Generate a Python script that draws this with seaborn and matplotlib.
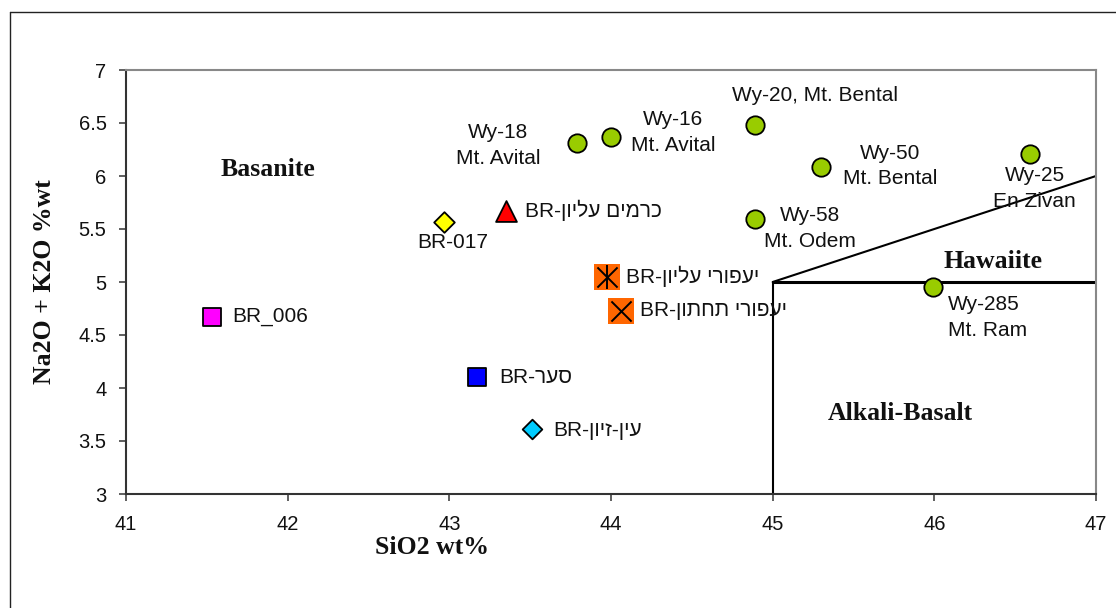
import re
import matplotlib
matplotlib.use("Agg")
import matplotlib.pyplot as plt
from matplotlib.lines import Line2D
import pandas as pd
import seaborn as sns

# --- data -------------------------------------------------------------
samples = ["BR_006", "BR-017", "BR-כרמים עליון", "BR-סער", "BR-עין-זיון",
           "BR-יעפורי עליון", "BR-יעפורי תחתון",
           "Wy-18\nMt. Avital", "Wy-16\nMt. Avital", "Wy-20, Mt. Bental",
           "Wy-50\nMt. Bental", "Wy-58\nMt. Odem", "Wy-25\nEn Zivan",
           "Wy-285\nMt. Ram"]
sio2 = [41.53, 42.97, 43.35, 43.17, 43.51, 43.975, 44.06,
        43.79, 44.00, 44.89, 45.30, 44.89, 46.59, 45.99]
alkali = [4.67, 5.57, 5.67, 4.10, 3.61, 5.05, 4.73,
          6.31, 6.37, 6.48, 6.085, 5.59, 6.21, 4.95]

# field boundaries (SiO2, Na2O+K2O)
vertical_x = [45, 45]
vertical_y = [3, 5]
horizontal_x = [45, 47]
horizontal_y = [5, 5]
diagonal_x = [45, 47]
diagonal_y = [5, 6]

field_names = ["Basanite", "Hawaiite", "Alkali-Basalt"]
field_x = [41.88, 46.36, 45.79]
field_y = [6.06, 5.19, 3.755]

x_ticks = [41, 42, 43, 44, 45, 46, 47]
y_ticks = [3, 3.5, 4, 4.5, 5, 5.5, 6, 6.5, 7]

# --- marker styles ----------------------------------------------------
GREEN = "#99CC00"
styles = {
    "BR_006": dict(marker="s", color="#FF00FF", s=150),
    "BR-017": dict(marker="D", color="#FFFF00", s=110),
    "BR-כרמים עליון": dict(marker="^", color="#FF0000", s=225),
    "BR-סער": dict(marker="s", color="#0000FF", s=150),
    "BR-עין-זיון": dict(marker="D", color="#00CCFF", s=100),
}

# label offsets in pixels (dx, dy, horizontal alignment)
label_offsets = {
    "BR_006": (21, 0, "left"),
    "BR-017": (8, -21, "center"),
    "BR-כרמים עליון": (19, 1, "left"),
    "BR-סער": (22, 0, "left"),
    "BR-עין-זיון": (21, -1, "left"),
    "BR-יעפורי עליון": (19, 0, "left"),
    "BR-יעפורי תחתון": (19, 0, "left"),
    "Wy-18\nMt. Avital": (-79, -2, "center"),
    "Wy-16\nMt. Avital": (62, 4, "center"),
    "Wy-20, Mt. Bental": (60, 30, "center"),
    "Wy-50\nMt. Bental": (69, 1, "center"),
    "Wy-58\nMt. Odem": (55, -9, "center"),
    "Wy-25\nEn Zivan": (5, -35, "center"),
    "Wy-285\nMt. Ram": (15, -30, "left"),
}

HEBREW_RUN = re.compile(r"[\u0590-\u05FF]+(?:[ \-][\u0590-\u05FF]+)*")


def visual(text):
    """Put right-to-left runs in display order (matplotlib has no bidi)."""
    return HEBREW_RUN.sub(lambda m: m.group(0)[::-1], text)


df = pd.DataFrame({"sample": samples, "sio2": sio2, "alkali": alkali})

sns.set_theme(style="white")
plt.rcParams["font.family"] = ["Liberation Sans", "DejaVu Sans"]

W, H = 1116, 608
fig = plt.figure(figsize=(W / 100, H / 100), dpi=100)
ax = fig.add_axes([126 / W, (H - 494) / H, 970 / W, 424 / H])

# outer chart frame (left and top edges visible)
fig.add_artist(Line2D([10 / W, 10 / W], [0, (H - 12) / H], color="#222222",
                      lw=1.0, transform=fig.transFigure))
fig.add_artist(Line2D([10 / W, 1], [(H - 12) / H, (H - 12) / H], color="#222222",
                      lw=1.0, transform=fig.transFigure))

# field boundaries
ax.plot(vertical_x, vertical_y, color="black", lw=1.5, zorder=2)
ax.plot(horizontal_x, horizontal_y, color="black", lw=2.2, zorder=2)
ax.plot(diagonal_x, diagonal_y, color="black", lw=1.5, zorder=2)

for _, row in df.iterrows():
    name = row["sample"]
    pt = df[df["sample"] == name]
    if name in styles:
        st = styles[name]
        sns.scatterplot(data=pt, x="sio2", y="alkali", marker=st["marker"],
                        color=st["color"], s=st["s"], edgecolor="black",
                        linewidth=1.3, ax=ax, zorder=4, legend=False)
    elif name.startswith("BR-יעפורי"):
        sns.scatterplot(data=pt, x="sio2", y="alkali", marker="s",
                        color="#FF6600", s=330, linewidth=0, ax=ax, zorder=4,
                        legend=False)
        sns.scatterplot(data=pt, x="sio2", y="alkali", marker="x",
                        color="black", s=210, linewidth=1.4, ax=ax, zorder=5,
                        legend=False)
        if "עליון" in name:
            sns.scatterplot(data=pt, x="sio2", y="alkali", marker="|",
                            color="black", s=300, linewidth=1.4, ax=ax,
                            zorder=5, legend=False)
    else:
        sns.scatterplot(data=pt, x="sio2", y="alkali", marker="o",
                        color=GREEN, s=175, edgecolor="black", linewidth=1.3,
                        ax=ax, zorder=4, legend=False)

    dx, dy, ha = label_offsets[name]
    ax.annotate(visual(name), (row["sio2"], row["alkali"]),
                xytext=(dx, dy), textcoords="offset pixels",
                ha=ha, va="center", multialignment=ha, fontsize=15,
                linespacing=1.45, color="#111111", zorder=6)

# field names
for name, fx, fy in zip(field_names, field_x, field_y):
    ax.text(fx, fy, name, ha="center", va="center", fontsize=18.5,
            fontweight="bold", family="Liberation Serif", color="#111111")

ax.set_xlim(41, 47)
ax.set_ylim(3, 7)
ax.set_xticks(x_ticks)
ax.set_yticks(y_ticks)
ax.set_xticklabels([f"{t:g}" for t in x_ticks])
ax.set_yticklabels([f"{t:g}" for t in y_ticks])
ax.tick_params(axis="both", direction="out", length=5, width=1.2,
               color="#444444", labelsize=14.5, labelcolor="#111111")
ax.tick_params(axis="y", left=True, pad=9)
ax.tick_params(axis="x", bottom=True, pad=10)
ax.set_xlabel("")
ax.set_ylabel("")

for side in ["left", "bottom"]:
    ax.spines[side].set_color("#333333")
    ax.spines[side].set_linewidth(1.5)
for side in ["top", "right"]:
    ax.spines[side].set_color("#888888")
    ax.spines[side].set_linewidth(1.5)

fig.text(432 / W, (H - 548) / H, "SiO2 wt%", ha="center", va="center",
         fontsize=18.5, fontweight="bold", family="Liberation Serif",
         color="#111111")
fig.text(45 / W, (H - 282) / H, "Na2O + K2O %wt", ha="center", va="center",
         rotation=90, fontsize=18.5, fontweight="bold",
         family="Liberation Serif", color="#111111")

fig.savefig("out.png", dpi=100)
